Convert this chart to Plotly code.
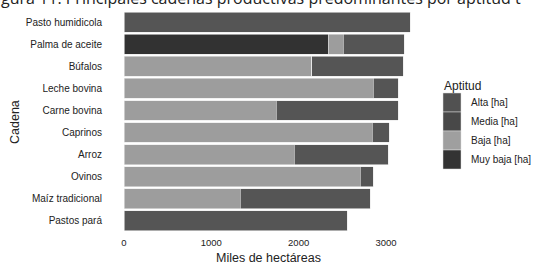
import plotly.graph_objects as go

categories = ["Pasto humidicola", "Palma de aceite", "Búfalos", "Leche bovina", "Carne bovina",
              "Caprinos", "Arroz", "Ovinos", "Maíz tradicional", "Pastos pará"]
series_names = ["Muy baja [ha]", "Baja [ha]", "Media [ha]", "Alta [ha]"]
muy_baja = [0, 2337, 0, 0, 0, 0, 0, 0, 0, 0]
baja = [0, 172, 2153, 2852, 1741, 2841, 1947, 2703, 1329, 0]
media = [0, 0, 0, 0, 0, 0, 0, 0, 0, 0]
alta = [3276, 698, 1043, 287, 1398, 194, 1077, 149, 1489, 2554]
values = [muy_baja, baja, media, alta]
colors = ["#323232", "#9d9d9d", "#4a4a4a", "#555555"]
legend_order = ["Alta [ha]", "Media [ha]", "Baja [ha]", "Muy baja [ha]"]
legend_colors = ["#515151", "#484848", "#9f9f9f", "#333333"]
x_ticks = [0, 1000, 2000, 3000]

W, H = 534, 266
L, R, T, B = 124, 420, 9, 234
pw, ph = R - L, B - T
FONT = "Liberation Sans"

fig = go.Figure()
for name, vals, col in zip(series_names, values, colors):
    fig.add_trace(go.Bar(
        y=categories, x=vals, orientation="h", name=name,
        marker=dict(color=col, line=dict(color="#e8e8e8", width=0.6)),
        showlegend=False,
    ))

def px(x):
    return (x - L) / pw

def py(y):
    return (B - y) / ph

shapes = []
annotations = []
for i, (lab, col) in enumerate(zip(legend_order, legend_colors)):
    y0 = 93 + 19 * i
    shapes.append(dict(type="rect", xref="paper", yref="paper",
                       x0=px(443), x1=px(461), y0=py(y0 + 19), y1=py(y0),
                       fillcolor=col, line=dict(color="#dddddd", width=0.5)))
    annotations.append(dict(xref="paper", yref="paper", x=px(469), y=py(y0 + 9.5),
                            text=lab, showarrow=False, xanchor="left", yanchor="middle",
                            font=dict(family=FONT, size=10, color="#222")))
annotations.append(dict(xref="paper", yref="paper", x=px(442), y=py(86),
                        text="Aptitud", showarrow=False, xanchor="left", yanchor="middle",
                        font=dict(family=FONT, size=12, color="#222")))
annotations.append(dict(xref="paper", yref="paper", x=px(-1), y=py(11),
                        text="gura 11. Principales cadenas productivas predominantes por aptitud t",
                        showarrow=False, xanchor="left", yanchor="bottom",
                        font=dict(family="Open Sans", size=16, color="#222")))
annotations.append(dict(xref="paper", yref="paper", x=px(268), y=py(258),
                        text="Miles de hectáreas", showarrow=False, xanchor="center", yanchor="middle",
                        font=dict(family=FONT, size=12.5, color="#222")))
annotations.append(dict(xref="paper", yref="paper", x=px(15), y=py(122),
                        text="Cadena", showarrow=False, xanchor="center", yanchor="middle",
                        textangle=-90, font=dict(family=FONT, size=12.5, color="#222")))

fig.update_layout(
    width=W, height=H, barmode="stack", bargap=0.1,
    margin=dict(l=L, r=W - R, t=T, b=H - B, pad=0, autoexpand=False),
    plot_bgcolor="white", paper_bgcolor="white",
    shapes=shapes, annotations=annotations,
    xaxis=dict(range=[0, 3390], tickvals=x_ticks, showgrid=False, zeroline=False,
               showline=False, ticks="outside", ticklen=0, tickcolor="rgba(0,0,0,0)",
               automargin=False,
               tickfont=dict(family=FONT, size=9.5, color="#222")),
    yaxis=dict(categoryorder="array", categoryarray=categories, range=[9.6, -0.6],
               showgrid=False, zeroline=False, showline=False, automargin=False,
               ticks="outside", ticklen=19, tickcolor="rgba(0,0,0,0)",
               tickfont=dict(family=FONT, size=10, color="#222")),
)
fig.write_html("out.html", config={"displayModeBar": False},
               post_script="document.body.style.margin='0';document.body.style.padding='0';document.body.style.overflow='hidden';")
